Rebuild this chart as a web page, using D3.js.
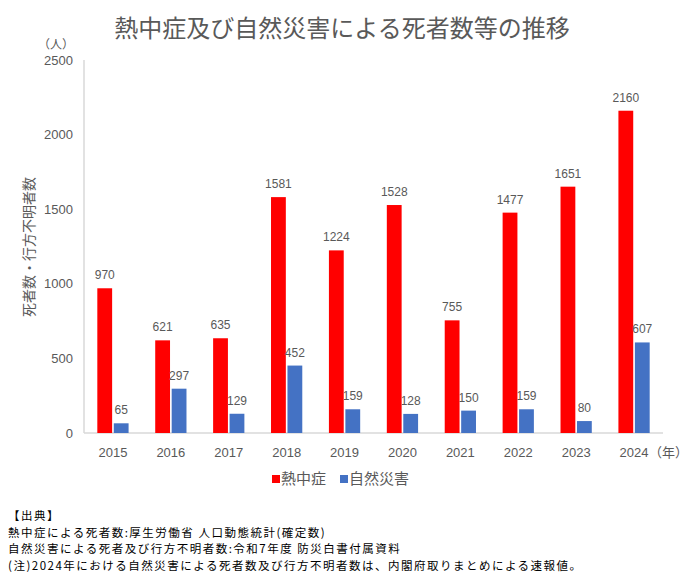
<!DOCTYPE html>
<html>
<head>
<meta charset="utf-8">
<script src="https://cdn.jsdelivr.net/npm/d3@7"></script>
<style>
  body { margin: 0; background: #fff; }
  text { font-family: "Noto Sans CJK JP", "Liberation Sans", sans-serif; fill: #595959; }
  .num { font-family: "Liberation Sans", Arial, sans-serif; }
</style>
</head>
<body>
<div id="chart"></div>
<script>
var years = ["2015", "2016", "2017", "2018", "2019", "2020", "2021", "2022", "2023", "2024"];
var heatDeaths = [970, 621, 635, 1581, 1224, 1528, 755, 1477, 1651, 2160];
var disasterDeaths = [65, 297, 129, 452, 159, 128, 150, 159, 80, 607];
var seriesNames = ["熱中症", "自然災害"];
var seriesColors = ["#FF0000", "#4472C4"];
var yTicks = [0, 500, 1000, 1500, 2000, 2500];
var notes = [
  "【出典】",
  "熱中症による死者数:厚生労働省 人口動態統計(確定数)",
  "自然災害による死者及び行方不明者数:令和7年度 防災白書付属資料",
  "(注)2024年における自然災害による死者数及び行方不明者数は、内閣府取りまとめによる速報値。"
];

var svgWidth = 690, svgHeight = 581;
var margin = { top: 60, right: 27, bottom: 148, left: 84 };
var width = svgWidth - margin.left - margin.right;
var height = svgHeight - margin.top - margin.bottom;

var svg = d3.select("#chart").append("svg")
  .attr("width", svgWidth)
  .attr("height", svgHeight);

// title
svg.append("text")
  .attr("x", 342).attr("y", 37)
  .attr("text-anchor", "middle")
  .style("font-size", "24px")
  .style("font-weight", 400)
  .text("熱中症及び自然災害による死者数等の推移");

var chart = svg.append("g")
  .attr("transform", "translate(" + margin.left + "," + margin.top + ")");

var x0 = d3.scaleBand().domain(years).range([0, width]).paddingInner(0.46).paddingOuter(0.23);
var x1 = d3.scaleBand().domain([0, 1]).range([0, x0.bandwidth()]).paddingInner(0.1);
var y = d3.scaleLinear().domain([0, 2500]).range([height, 0]);

// y tick labels
chart.selectAll(".ytick")
  .data(yTicks)
  .enter().append("text")
  .attr("class", "ytick num")
  .attr("x", -11)
  .attr("y", function(d) { return y(d); })
  .attr("dy", "0.35em")
  .attr("text-anchor", "end")
  .style("font-size", "13px")
  .text(function(d) { return d; });

// axis lines
chart.append("line")
  .attr("x1", 0).attr("x2", 0).attr("y1", 0).attr("y2", height)
  .attr("stroke", "#d9d9d9").attr("stroke-width", 1.5);
chart.append("line")
  .attr("x1", 0).attr("x2", width).attr("y1", height).attr("y2", height)
  .attr("stroke", "#d9d9d9").attr("stroke-width", 1.5);

var rows = years.map(function(yr, i) {
  return { year: yr, values: [heatDeaths[i], disasterDeaths[i]] };
});

var groups = chart.selectAll(".grp")
  .data(rows)
  .enter().append("g")
  .attr("class", "grp")
  .attr("transform", function(d) { return "translate(" + x0(d.year) + ",0)"; });

groups.selectAll("rect")
  .data(function(d) { return d.values; })
  .enter().append("rect")
  .attr("x", function(d, i) { return x1(i); })
  .attr("width", x1.bandwidth())
  .attr("y", function(d) { return y(d); })
  .attr("height", function(d) { return height - y(d); })
  .attr("fill", function(d, i) { return seriesColors[i]; });

groups.selectAll(".val")
  .data(function(d) { return d.values; })
  .enter().append("text")
  .attr("class", "val num")
  .attr("x", function(d, i) { return x1(i) + x1.bandwidth() / 2; })
  .attr("y", function(d) { return y(d) - 9; })
  .attr("text-anchor", "middle")
  .style("font-size", "12px")
  .text(function(d) { return d; });

// year labels
chart.selectAll(".xtick")
  .data(years)
  .enter().append("text")
  .attr("class", "xtick num")
  .attr("x", function(d) { return x0(d) + x0.bandwidth() / 2; })
  .attr("y", height + 24)
  .attr("text-anchor", "middle")
  .style("font-size", "13px")
  .text(function(d) { return d; });

chart.append("text")
  .attr("x", x0("2024") + x0.bandwidth() / 2 + 15)
  .attr("y", height + 24)
  .style("font-size", "13px")
  .text("（年）");

// unit + y title
svg.append("text")
  .attr("x", 56).attr("y", 49)
  .attr("text-anchor", "middle")
  .style("font-size", "12px")
  .text("（人）");

svg.append("text")
  .attr("transform", "translate(34,247) rotate(-90)")
  .attr("text-anchor", "middle")
  .style("font-size", "14px")
  .text("死者数・行方不明者数");

// legend
var legend = svg.append("g").attr("transform", "translate(272,479)");
var legX = [0, 68];
seriesNames.forEach(function(name, i) {
  legend.append("rect")
    .attr("x", legX[i]).attr("y", -4)
    .attr("width", 8).attr("height", 8)
    .attr("fill", seriesColors[i]);
  legend.append("text")
    .attr("x", legX[i] + 9).attr("y", 0)
    .attr("dy", "0.36em")
    .style("font-size", "15px")
    .text(name);
});

// source notes
svg.selectAll(".note")
  .data(notes)
  .enter().append("text")
  .attr("class", "note")
  .attr("x", 8)
  .attr("y", function(d, i) { return 520 + i * 16.7; })
  .style("font-size", "11.5px")
  .style("letter-spacing", "1.5px")
  .style("fill", "#000")
  .text(function(d) { return d; });
</script>
</body>
</html>
